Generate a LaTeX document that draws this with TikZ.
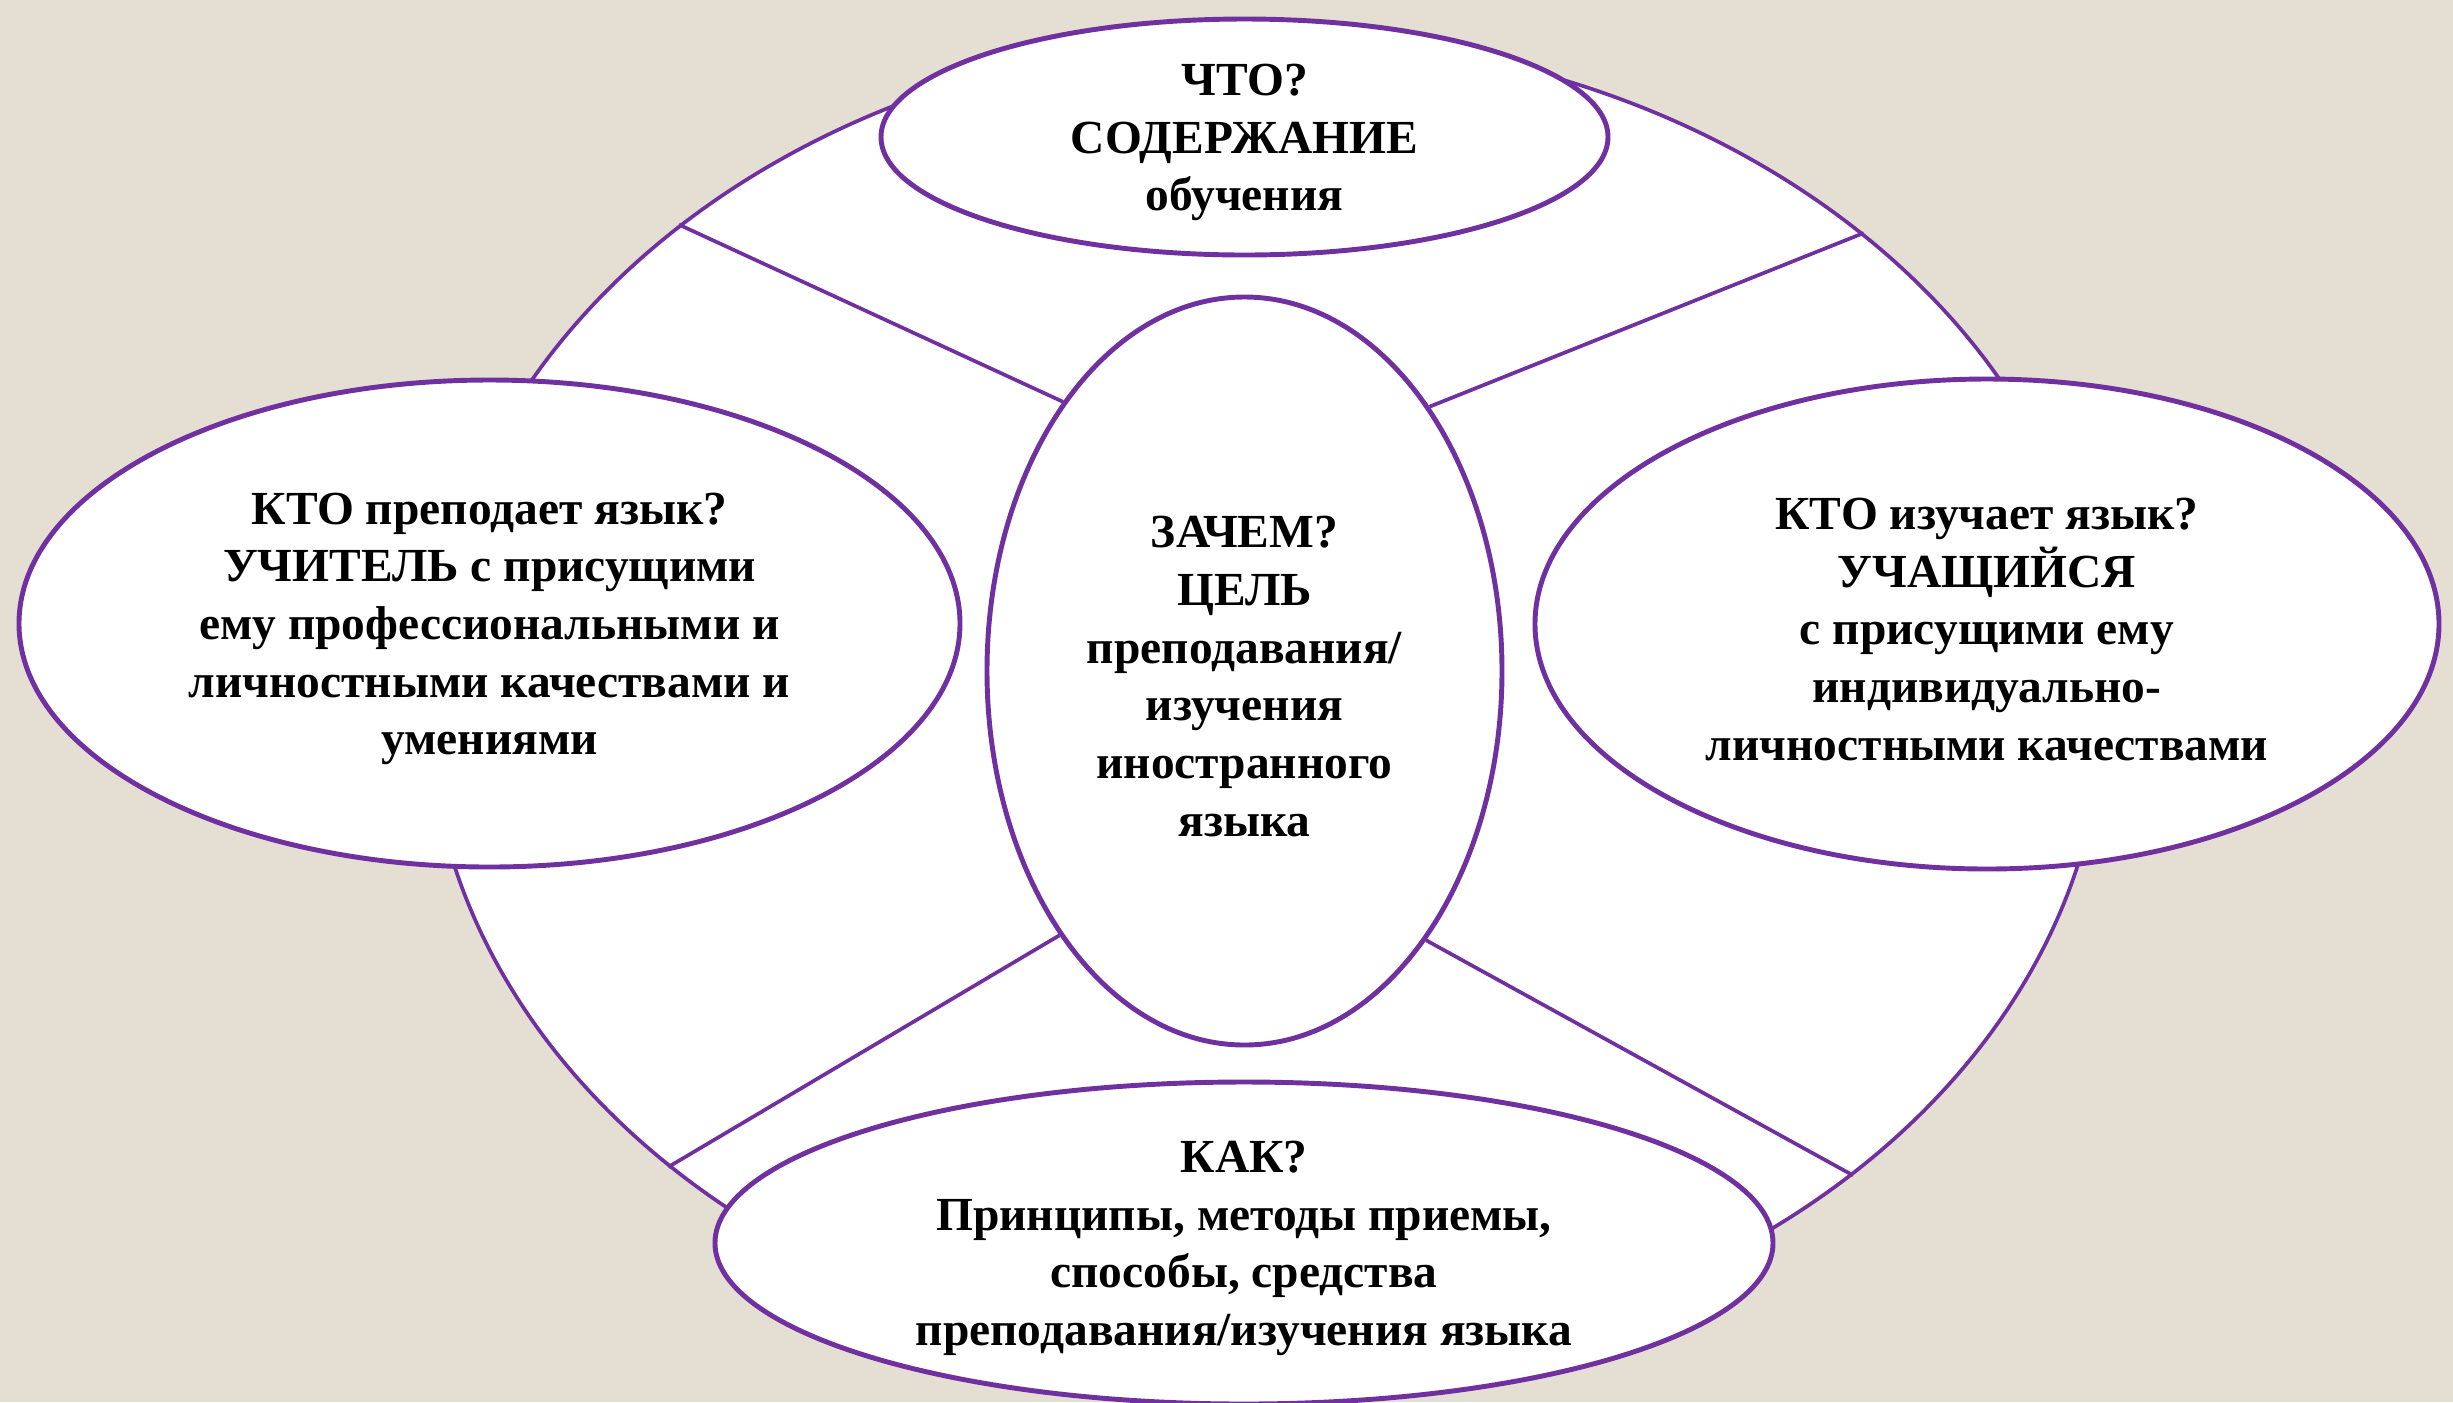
\documentclass[tikz,border=0pt]{standalone}
\usepackage{fontspec}
\setmainfont{Liberation Serif}
\usetikzlibrary{shapes.geometric}
\definecolor{violetcadre}{HTML}{7030A0}
\definecolor{fondbeige}{HTML}{E4DED3}
\begin{document}
\begin{tikzpicture}
		\tikzstyle{bulle}=[ellipse,draw=violetcadre,line width=1.4pt,fill=white,inner sep=0pt]
		\tikzstyle{texte}=[align=center,yshift=-0.055cm,font=\bfseries\fontsize{13.5}{16.4}\selectfont]
		\tikzstyle{trait}=[draw=violetcadre,line width=1.05pt]
		
		\def\Largeur{24.53}
		\def\Hauteur{14.02}
		
		\fill[fondbeige] (0,0) rectangle (\Largeur,-\Hauteur);
		\useasboundingbox (0,0) rectangle (\Largeur,-\Hauteur);
		
		\node[bulle,line width=1.05pt,minimum width=16.76cm,minimum height=13.26cm] (Anneau) at (12.66,-7.00) {};
		\node[bulle,minimum width=5.15cm,minimum height=7.48cm] (Zachem) at (12.445,-6.71) {};
		\node[bulle,minimum width=7.27cm,minimum height=2.36cm] (Chto) at (12.445,-1.37) {};
		\node[bulle,minimum width=9.41cm,minimum height=4.87cm] (Uchitel) at (4.895,-6.235) {};
		\node[bulle,minimum width=9.04cm,minimum height=4.90cm] (Uchashchijsya) at (19.87,-6.24) {};
		\node[bulle,minimum width=10.58cm,minimum height=3.22cm] (Kak) at (12.44,-12.43) {};
		
		\draw[trait] (Anneau.141.6)--(Zachem.124.8);
		\draw[trait] (Anneau.38.2)--(Zachem.55.4);
		\draw[trait] (Anneau.218.6)--(Zachem.235.3);
		\draw[trait] (Anneau.321.5)--(Zachem.304.7);
		
		\node[texte] (TZachem) at (Zachem) {ЗАЧЕМ?\\ЦЕЛЬ\\преподавания/\\изучения\\иностранного\\языка};
		\node[texte] (TChto) at (Chto) {ЧТО?\\СОДЕРЖАНИЕ\\обучения};
		\node[texte] (TUchitel) at (Uchitel) {КТО преподает язык?\\УЧИТЕЛЬ с присущими\\ему профессиональными и\\личностными качествами и\\умениями};
		\node[texte] (TUchashchijsya) at (Uchashchijsya) {КТО изучает язык?\\УЧАЩИЙСЯ\\с присущими ему\\индивидуально-\\личностными качествами};
		\node[texte] (TKak) at (Kak) {КАК?\\Принципы, методы приемы,\\способы, средства\\преподавания/изучения языка};
	\end{tikzpicture}
\end{document}
